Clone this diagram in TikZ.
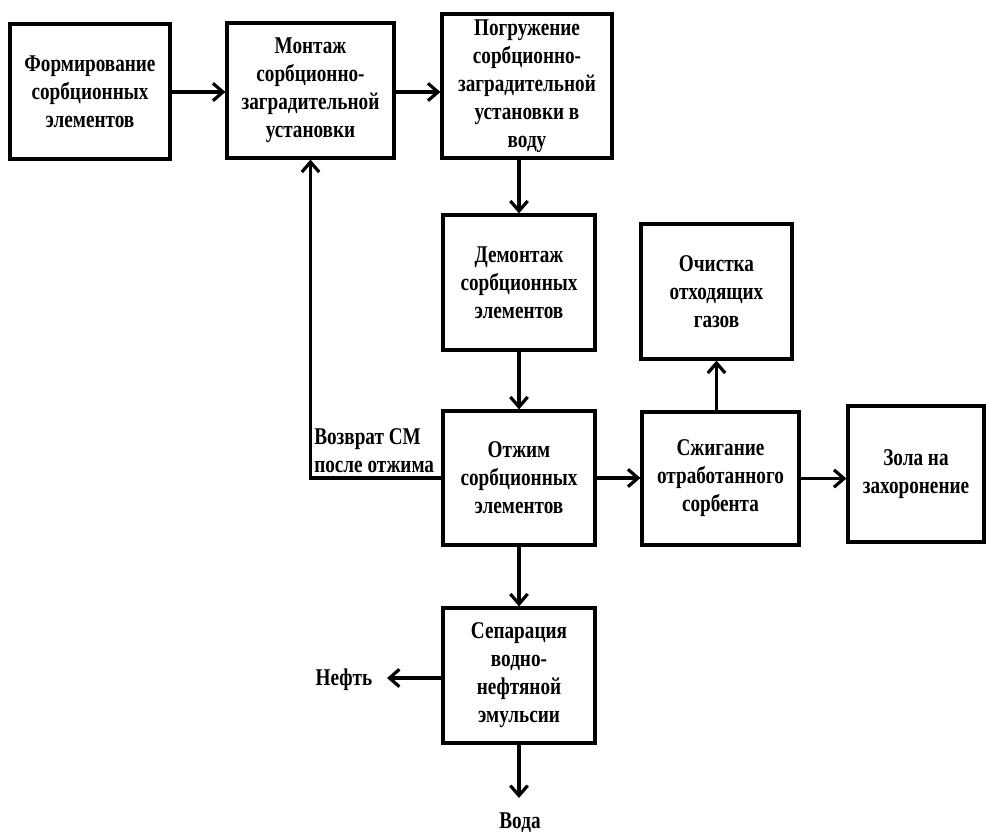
\documentclass[tikz,border=0pt]{standalone}
\usepackage{fontspec}
\newfontfamily\boxfont[FakeStretch=0.8]{Liberation Serif}
\usetikzlibrary{arrows.meta}
\begin{document}
\begin{tikzpicture}[x=0.75pt,y=-0.75pt,
  every node/.style={font=\boxfont\bfseries\fontsize{18}{21}\selectfont},
  stage/.style={draw,line width=2.4pt,align=center,inner sep=0pt},
  flow/.style={line width=2.4pt,-{Straight Barb[length=7.5pt,width=13pt,line width=2.4pt]}},
  plain/.style={align=center,inner sep=0pt}]
\useasboundingbox (0,0) rectangle (986,832);

% process boxes
\node[stage,minimum width=120pt,minimum height=101.25pt] (form) at (90,91.5)
  {Формирование\\сорбционных\\элементов};
\node[stage,minimum width=125.25pt,minimum height=101.25pt] (mont) at (310.5,90.5)
  {Монтаж\\сорбционно-\\заградительной\\установки};
\node[stage,minimum width=127.5pt,minimum height=108pt] (pogr) at (527,86)
  {Погружение\\сорбционно-\\заградительной\\установки в\\воду};
\node[stage,minimum width=114pt,minimum height=101.25pt] (demo) at (519,282.5)
  {Демонтаж\\сорбционных\\элементов};
\node[stage,minimum width=113.25pt,minimum height=101.25pt] (ochi) at (716.5,291.5)
  {Очистка\\отходящих\\газов};
\node[stage,minimum width=114pt,minimum height=100.5pt] (otzh) at (519,478)
  {Отжим\\сорбционных\\элементов};
\node[stage,minimum width=117.75pt,minimum height=99.75pt] (szhi) at (720.5,478.5)
  {Сжигание\\отработанного\\сорбента};
\node[stage,minimum width=102pt,minimum height=102pt] (zola) at (916,474)
  {Зола на\\захоронение};
\node[stage,minimum width=114pt,minimum height=101.25pt] (sepa) at (519,675.5)
  {Сепарация\\водно-\\нефтяной\\эмульсии};

% outputs
\node[plain] (neft) at (344,680) {Нефть};
\node[plain] (voda) at (520,823) {Вода};
\coordinate (neftend) at (387,678);
\coordinate (vodaend) at (519,798);
\node[plain,align=left,anchor=west] (vozv) at (314,451)
  {Возврат СМ\\после отжима};

% connectors
\draw[flow] (form.east |- 0,92) -- (mont.west |- 0,92);
\draw[flow] (mont.east |- 0,92) -- (pogr.west |- 0,92);
\draw[flow] (demo.north |- pogr.south) -- (demo.north);
\draw[flow] (demo.south) -- (otzh.north);
\draw[flow] (otzh.east) -- (otzh.east -| szhi.west);
\draw[flow] (ochi.south |- szhi.north) -- (ochi.south);
\draw[flow] (szhi.east) -- (szhi.east -| zola.west);
\draw[flow] (otzh.west) -| (mont.south);
\draw[flow] (otzh.south) -- (sepa.north);
\draw[flow] (sepa.west |- neftend) -- (neftend);
\draw[flow] (sepa.south) -- (vodaend);
\end{tikzpicture}
\end{document}
